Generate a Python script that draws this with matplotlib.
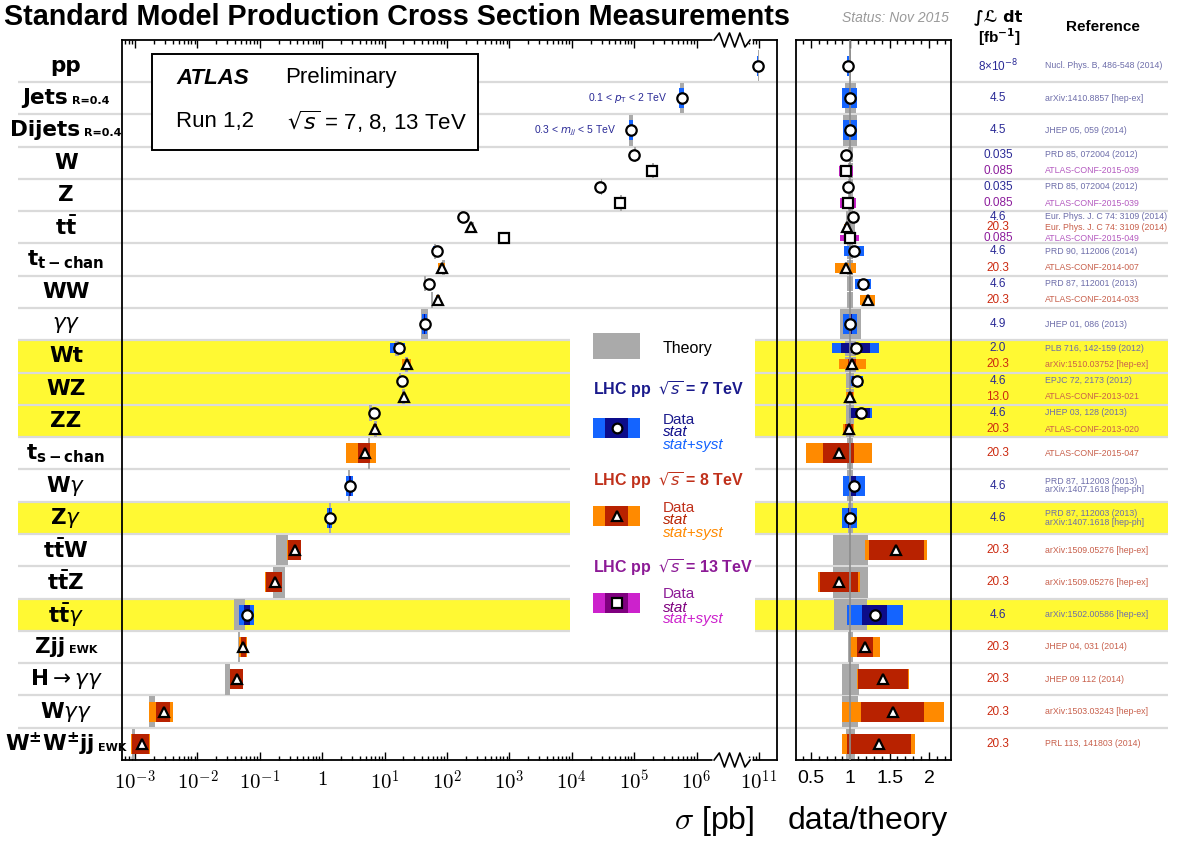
import numpy as np
import matplotlib.pyplot as plt
from matplotlib.patches import Rectangle
from matplotlib.ticker import MultipleLocator
from matplotlib.offsetbox import TextArea, HPacker, AnnotationBbox

plt.rcParams['font.family'] = ['Liberation Sans', 'DejaVu Sans']
plt.rcParams['mathtext.fontset'] = 'dejavusans'

# ---- rows, top to bottom ----
row_names = ['pp', 'Jets', 'Dijets', 'W', 'Z', r'$\mathbf{t\bar{t}}$', r'$\mathbf{t}_{\mathbf{t-chan}}$',
             'WW', r'$\gamma\gamma$', 'Wt', 'WZ', 'ZZ', r'$\mathbf{t}_{\mathbf{s-chan}}$',
             r'W$\gamma$', r'Z$\gamma$', r'$\mathbf{t\bar{t}W}$', r'$\mathbf{t\bar{t}Z}$',
             r'$\mathbf{t\bar{t}}\gamma$', 'Zjj', r'$\mathbf{H}\rightarrow\gamma\gamma$',
             r'W$\gamma\gamma$', r'$\mathbf{W^{\pm}W^{\pm}jj}$']
row_suffix = ['', 'R=0.4', 'R=0.4', '', '', '', '', '', '', '', '', '', '', '', '', '', '', '',
              'EWK', '', '', 'EWK']
highlight_rows = [9, 10, 11, 14, 17]

# ---- one entry per measurement ----
meas_row = [0, 1, 2, 3, 3, 4, 4, 5, 5, 5, 6, 6, 7, 7, 8, 9, 9, 10, 10, 11, 11, 12, 13, 14,
            15, 16, 17, 18, 19, 20, 21]
meas_sqrts = [7, 7, 7, 7, 13, 7, 13, 7, 8, 13, 7, 8, 7, 8, 7, 7, 8, 7, 8, 7, 8, 8, 7, 7,
              8, 8, 7, 8, 8, 8, 8]
meas_xsec = [9.53e10, 5.8e5, 8.9e4, 9.87e4, 1.9e5, 2.87e4, 5.9e4, 182.9, 242.4, 825.0,
             68.0, 82.6, 51.9, 71.1, 44.0, 16.8, 23.0, 19.0, 20.3, 6.7, 7.1, 4.8, 2.77, 1.31,
             0.369, 0.176, 0.063, 0.0547, 0.0432, 0.0029, 0.0013]
meas_ratio = [0.97, 0.99, 1.0, 0.95, 0.945, 0.965, 0.97, 1.03, 0.96, 0.99,
              1.05, 0.94, 1.16, 1.22, 1.0, 1.07, 1.025, 1.08, 1.0, 1.13, 0.98, 0.855, 1.045, 0.99,
              1.585, 0.855, 1.31, 1.19, 1.415, 1.54, 1.364]
meas_stat = [0.001, 0.005, 0.005, 0.002, 0.005, 0.01, 0.01, 0.02, 0.007, 0.01,
             0.04, 0.01, 0.04, 0.02, 0.02, 0.17, 0.05, 0.05, 0.03, 0.11, 0.05, 0.23, 0.03, 0.02,
             0.22, 0.28, 0.12, 0.085, 0.225, 0.26, 0.30]
meas_total = [0.012, 0.094, 0.09, 0.035, 0.095, 0.035, 0.1, 0.04, 0.04, 0.12,
              0.12, 0.14, 0.09, 0.075, 0.09, 0.28, 0.165, 0.08, 0.05, 0.125, 0.07, 0.49, 0.13, 0.09,
              0.25, 0.31, 0.27, 0.16, 0.23, 0.42, 0.34]
theory_err = [0.004, 0.07, 0.09, 0.03, 0.03, 0.03, 0.03, 0.06, 0.06, 0.06,
              0.04, 0.04, 0.04, 0.04, 0.135, 0.07, 0.07, 0.05, 0.05, 0.05, 0.05, 0.04, 0.04, 0.03,
              0.22, 0.22, 0.21, 0.03, 0.105, 0.10, 0.06]
meas_lumi = ['8×10$^{-8}$', '4.5', '4.5', '0.035', '0.085', '0.035', '0.085', '4.6', '20.3', '0.085',
             '4.6', '20.3', '4.6', '20.3', '4.9', '2.0', '20.3', '4.6', '13.0', '4.6', '20.3', '20.3',
             '4.6', '4.6', '20.3', '20.3', '4.6', '20.3', '20.3', '20.3', '20.3']
meas_ref = ['Nucl. Phys. B, 486-548 (2014)', 'arXiv:1410.8857 [hep-ex]', 'JHEP 05, 059 (2014)',
            'PRD 85, 072004 (2012)', 'ATLAS-CONF-2015-039', 'PRD 85, 072004 (2012)',
            'ATLAS-CONF-2015-039', 'Eur. Phys. J. C 74: 3109 (2014)', 'Eur. Phys. J. C 74: 3109 (2014)',
            'ATLAS-CONF-2015-049', 'PRD 90, 112006 (2014)', 'ATLAS-CONF-2014-007',
            'PRD 87, 112001 (2013)', 'ATLAS-CONF-2014-033', 'JHEP 01, 086 (2013)',
            'PLB 716, 142-159 (2012)', 'arXiv:1510.03752 [hep-ex]', 'EPJC 72, 2173 (2012)',
            'ATLAS-CONF-2013-021', 'JHEP 03, 128 (2013)', 'ATLAS-CONF-2013-020', 'ATLAS-CONF-2015-047',
            'PRD 87, 112003 (2013)\narXiv:1407.1618 [hep-ph]', 'PRD 87, 112003 (2013)\narXiv:1407.1618 [hep-ph]',
            'arXiv:1509.05276 [hep-ex]', 'arXiv:1509.05276 [hep-ex]', 'arXiv:1502.00586 [hep-ex]',
            'JHEP 04, 031 (2014)', 'JHEP 09 112 (2014)', 'arXiv:1503.03243 [hep-ex]',
            'PRL 113, 141803 (2014)']

jets_note = ['0.1 < $p_{\\rm T}$ < 2 TeV', '0.3 < $m_{jj}$ < 5 TeV']

xticks_major = [1e-3, 1e-2, 1e-1, 1, 1e1, 1e2, 1e3, 1e4, 1e5, 1e6, 1e11]
xtick_labels = ['$10^{-3}$', '$10^{-2}$', '$10^{-1}$', '$1$', '$10^{1}$', '$10^{2}$', '$10^{3}$',
                '$10^{4}$', '$10^{5}$', '$10^{6}$', '$10^{11}$']

# ---- styles ----
GRAY = '#aaaaaa'
YELLOW = '#fff933'
SEP = '#dadada'
style = {
    7: dict(total='#1464ff', stat='#0c0c8a', marker='o', ms=7.5, lumi='#2a2a96', ref='#6e6eaa',
            title='#1a1a8c', label='7'),
    8: dict(total='#ff8a00', stat='#b82200', marker='^', ms=7.5, lumi='#cc2a10', ref='#c8604c',
            title='#c0301a', label='8'),
    13: dict(total='#cc22cc', stat='#7f007f', marker='s', ms=7.0, lumi='#8c1c9c', ref='#b45ac0',
             title='#8c1a96', label='13'),
}

# broken log axis: 10^6.3 .. 10^10.7 squeezed
B_LO, B_HI, SQ = 6.3, 10.7, 0.4


def fwd(x):
    l = np.log10(np.clip(np.asarray(x, dtype=float), 1e-30, None))
    return np.where(l <= B_LO, l,
                    np.where(l < B_HI, B_LO + (l - B_LO) * SQ / (B_HI - B_LO),
                             l - B_HI + B_LO + SQ))


def inv(p):
    p = np.asarray(p, dtype=float)
    l = np.where(p <= B_LO, p,
                 np.where(p < B_LO + SQ, B_LO + (p - B_LO) * (B_HI - B_LO) / SQ,
                          p - B_LO - SQ + B_HI))
    return 10.0 ** l


W_PX, H_PX = 1189, 842
fig = plt.figure(figsize=(W_PX / 100, H_PX / 100), dpi=100)
bot, hgt = (H_PX - 760) / H_PX, 720 / H_PX
YLIM = (21.5, -0.8)

bg = fig.add_axes([0, bot, 1, hgt], zorder=0)
bg.set_xlim(0, W_PX)
bg.set_ylim(*YLIM)
bg.axis('off')

ax = fig.add_axes([122 / W_PX, bot, 655 / W_PX, hgt], zorder=1)
axr = fig.add_axes([796 / W_PX, bot, 155 / W_PX, hgt], zorder=1)
for a in (ax, axr):
    a.set_facecolor('none')
    a.set_ylim(*YLIM)
    a.set_yticks([])
    for s in a.spines.values():
        s.set_linewidth(1.3)
    a.tick_params(axis='x', which='both', direction='in', top=True, bottom=True, width=1)
    a.tick_params(axis='x', which='major', length=6)
    a.tick_params(axis='x', which='minor', length=3.2)

# background rows
bg.barh(highlight_rows, 1150, left=18, height=1.0, color=YELLOW, zorder=0)
bg.hlines(np.arange(len(row_names) - 1) + 0.5, 18, 1168, color=SEP, lw=1.6, zorder=1)

for r, (name, suf) in enumerate(zip(row_names, row_suffix)):
    parts = [TextArea(name, textprops=dict(fontsize=15.5, fontweight='bold', family='DejaVu Sans'))]
    if suf:
        parts.append(TextArea(suf, textprops=dict(fontsize=8, fontweight='bold', family='DejaVu Sans')))
    box = HPacker(children=parts, align='baseline', pad=0, sep=3)
    bg.add_artist(AnnotationBbox(box, (66, r), xycoords='data', frameon=False,
                                 box_alignment=(0.5, 0.5), pad=0, annotation_clip=False))

# left panel scale
ax.set_xscale('function', functions=(fwd, inv))
ax.set_xlim(inv(-3.208), inv(7.288))
axr.set_xlim(0.31, 2.28)

counts = np.bincount(meas_row)
seen = np.zeros_like(counts)
for i, r in enumerate(meas_row):
    n = counts[r]
    k = seen[r]
    seen[r] += 1
    slot = 1.0 / n
    y = r + (k - (n - 1) / 2) * slot
    st = style[meas_sqrts[i]]
    sig, rat = meas_xsec[i], meas_ratio[i]
    th = sig / rat
    te, tot, sta = theory_err[i], meas_total[i], meas_stat[i]

    ax.barh(y, 2 * te * th, left=th * (1 - te), height=0.95 * slot, color=GRAY, lw=0, zorder=2)
    ax.barh(y, 2 * tot * sig, left=sig * (1 - tot), height=0.62 * slot, color=st['total'], lw=0, zorder=3)
    ax.barh(y, 2 * sta * sig, left=sig * (1 - sta), height=0.62 * slot, color=st['stat'], lw=0, zorder=4)
    ax.plot(sig, y, marker=st['marker'], ms=st['ms'], mfc='white', mec='black', mew=1.6, zorder=6)

    axr.barh(y, 2 * te, left=1 - te, height=0.95 * slot, color=GRAY, lw=0, zorder=2)
    axr.barh(y, 2 * tot * rat, left=rat * (1 - tot), height=0.62 * slot, color=st['total'], lw=0, zorder=3)
    axr.barh(y, 2 * sta * rat, left=rat * (1 - sta), height=0.62 * slot, color=st['stat'], lw=0, zorder=4)
    axr.plot(rat, y, marker=st['marker'], ms=st['ms'], mfc='white', mec='black', mew=1.6, zorder=6)

    bg.text(998, y, meas_lumi[i], ha='center', va='center', fontsize=8.5, color=st['lumi'], zorder=3)
    bg.text(1045, y, meas_ref[i], ha='left', va='center', fontsize=6.3, color=st['ref'],
            linespacing=0.95, zorder=3)

for i, note in enumerate(jets_note):
    ax.annotate(note, xy=(meas_xsec[i + 1], i + 1), xytext=(-10.5, 0), textcoords='offset points',
                ha='right', va='center', fontsize=7.5, color='#2a2a96', zorder=6)

axr.axvline(1, color='#8c8c8c', lw=1.2, zorder=5)

# ticks
ax.set_xticks(xticks_major)
ax.set_xticklabels(xtick_labels, fontsize=15, math_fontfamily='cm')
minors = [k * 10.0 ** d for d in range(-4, 6) for k in range(2, 10)]
minors = [m for m in minors if m > inv(-3.208)] + [7e10, 8e10, 9e10]
ax.set_xticks(minors, minor=True)
ax.tick_params(axis='x', which='major', pad=7)

axr.set_xticks([0.5, 1, 1.5, 2])
axr.set_xticklabels(['0.5', '1', '1.5', '2'], fontsize=14)
axr.xaxis.set_minor_locator(MultipleLocator(0.1))
axr.tick_params(axis='x', which='major', pad=7)

# axis break
zx = np.linspace(0.904, 0.959, 8)
amp = 7 / 720
for yb in (0.0, 1.0):
    ax.plot([0.901, 0.962], [yb, yb], transform=ax.transAxes, color='white', lw=3.5,
            clip_on=False, zorder=10, solid_capstyle='butt')
    ax.plot(zx, yb + amp * np.array([0, 1, -1, 1, -1, 1, -1, 0]), transform=ax.transAxes,
            color='black', lw=1.2, clip_on=False, zorder=11)


def lp(px, py):
    return (px - 122) / 655, 1 - (py - 40) / 720


# ATLAS box
ax.add_patch(Rectangle(lp(152, 150), 326 / 655, 96 / 720, transform=ax.transAxes,
                       facecolor='white', edgecolor='black', lw=1.4, zorder=7))
ax.text(*lp(176, 78), 'ATLAS', transform=ax.transAxes, fontsize=16, fontweight='bold',
        fontstyle='italic', va='center', zorder=8)
ax.text(*lp(285, 78), 'Preliminary', transform=ax.transAxes, fontsize=16, va='center', zorder=8)
ax.text(*lp(176, 122), 'Run 1,2', transform=ax.transAxes, fontsize=16, va='center', zorder=8)
ax.text(*lp(287, 122), r'$\sqrt{s}$ = 7, 8, 13 TeV', transform=ax.transAxes, fontsize=16,
        va='center', zorder=8)

# legend
ax.add_patch(Rectangle(lp(570, 642), 185 / 655, 312 / 720, transform=ax.transAxes,
                       facecolor='white', edgecolor='none', zorder=1))
ax.add_patch(Rectangle(lp(593, 359), 47 / 655, 26 / 720, transform=ax.transAxes,
                       facecolor=GRAY, edgecolor='none', zorder=7))
ax.text(*lp(663, 349), 'Theory', transform=ax.transAxes, fontsize=11.5, va='center', zorder=8)
for e, ty, py in ((7, 390, 428), (8, 481, 516), (13, 568, 603)):
    st = style[e]
    ax.text(*lp(593, ty), 'LHC pp  $\\sqrt{s}$ = %s TeV' % st['label'], transform=ax.transAxes,
            fontsize=11.5, fontweight='bold', color=st['title'], va='center', zorder=8)
    ax.add_patch(Rectangle(lp(593, py + 10), 47 / 655, 20 / 720, transform=ax.transAxes,
                           facecolor=st['total'], edgecolor='none', zorder=7))
    ax.add_patch(Rectangle(lp(605, py + 10), 23 / 655, 20 / 720, transform=ax.transAxes,
                           facecolor=st['stat'], edgecolor='none', zorder=7))
    ax.plot(*lp(616.5, py), transform=ax.transAxes, marker=st['marker'], ms=st['ms'] - 0.5,
            mfc='white', mec='black', mew=1.6, zorder=8, clip_on=False)
    ax.text(*lp(663, py - 8.5), 'Data', transform=ax.transAxes, fontsize=11, color=st['title'],
            va='center', zorder=8)
    ax.text(*lp(663, py + 4.5), 'stat', transform=ax.transAxes, fontsize=11, fontstyle='italic',
            color=st['stat'], va='center', zorder=8)
    ax.text(*lp(663, py + 16.5), 'stat+syst', transform=ax.transAxes, fontsize=11,
            fontstyle='italic', color=st['total'], va='center', zorder=8)


def fp(px, py):
    return px / W_PX, 1 - py / H_PX


fig.text(*fp(4, 17), 'Standard Model Production Cross Section Measurements', fontsize=20.7,
         fontweight='bold', va='center')
fig.text(*fp(895, 18), 'Status: Nov 2015', fontsize=10, fontstyle='italic', color='#9a9a9a',
         ha='center', va='center')
fig.text(*fp(998, 17), '∫ℒ dt', fontsize=11.5, fontweight='bold', ha='center', va='center',
         family=['DejaVu Sans'])
fig.text(*fp(999, 37), r'[fb$^{\mathbf{-1}}$]', fontsize=11, fontweight='bold', ha='center',
         va='center')
fig.text(*fp(1103, 27), 'Reference', fontsize=11, fontweight='bold', ha='center', va='center')
fig.text(*fp(754, 821), r'$\sigma$ [pb]', fontsize=23, ha='right', va='center', math_fontfamily='cm')
fig.text(*fp(868, 821), 'data/theory', fontsize=23, ha='center', va='center')

fig.savefig('out.png', dpi=100)
